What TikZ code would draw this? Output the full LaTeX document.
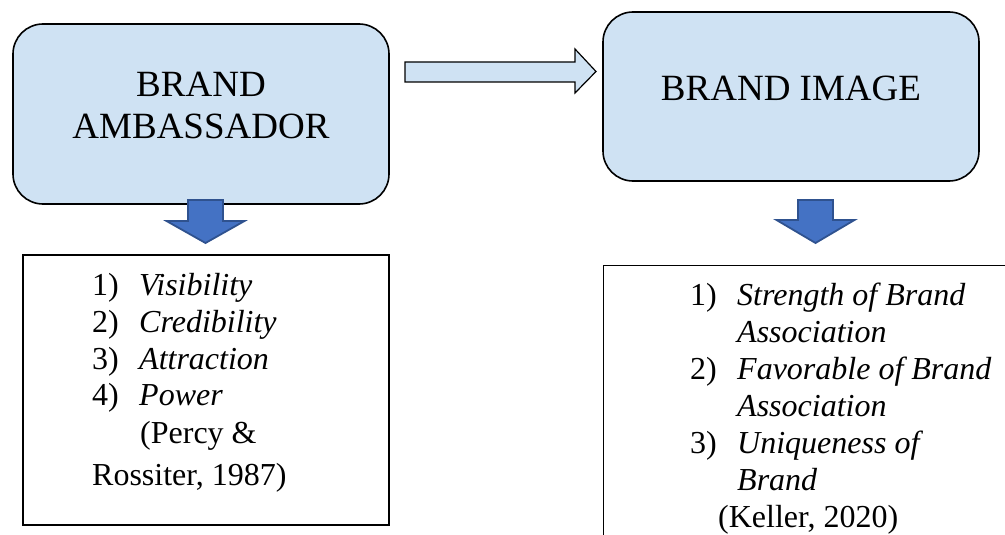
\documentclass[tikz,border=0pt]{standalone}
\usepackage{fontspec}
\setmainfont{Liberation Serif}
\definecolor{boxblue}{RGB}{207,226,243}
\definecolor{arrowfill}{RGB}{68,114,196}
\definecolor{arrowline}{RGB}{47,82,143}
\begin{document}
\begin{tikzpicture}[x=1pt,y=-1pt,
  titletext/.style={font=\fontsize{37}{44}\selectfont, inner sep=0pt, anchor=base},
  itemtext/.style={font=\fontsize{32}{37}\selectfont, inner sep=0pt, anchor=base west},
  roundbox/.style={draw, line width=1.6pt, fill=boxblue, rounded corners=30pt, inner sep=0pt},
  listbox/.style={draw, line width=1.2pt, fill=white, inner sep=0pt},
  downarrow/.style={draw=arrowline, line width=1.8pt, fill=arrowfill, line join=miter},
  rightarrow/.style={draw=black, line width=1.2pt, fill=boxblue, line join=miter}]
\useasboundingbox (0,0) rectangle (1005,535);
\clip (0,0) rectangle (1005,535);

% upper boxes
\node[roundbox, minimum width=376pt, minimum height=180pt] (amb) at (201,114) {};
\node[titletext] (ambA) at (201,96) {BRAND};
\node[titletext] (ambB) at (201,139) {AMBASSADOR};

\node[roundbox, minimum width=376pt, minimum height=169pt] (img) at (791,96.5) {};
\node[titletext] (imgT) at (791,100) {BRAND IMAGE};

% block arrow between the boxes
\draw[rightarrow] (405,62) -- (575,62) -- (575,49) -- (596,71.5) -- (575,93) -- (575,82) -- (405,82) -- cycle;

% list boxes
\node[listbox, minimum width=366pt, minimum height=270pt] (lstA) at (206,390) {};
\node[listbox, minimum width=410pt, minimum height=290pt, anchor=north west] (lstB) at (603,265) {};

% down arrows
\draw[downarrow] (188,200) -- (223,200) -- (223,221) -- (244.5,221) -- (205.5,243) -- (166.5,221) -- (188,221) -- cycle;
\draw[downarrow] (798,200) -- (833,200) -- (833,220) -- (854.5,220) -- (815.5,243) -- (776.5,220) -- (798,220) -- cycle;

% left list
\node[itemtext] (a1n) at (92,295) {1)};
\node[itemtext] (a1) at (139,295) {\textit{Visibility}};
\node[itemtext] (a2n) at (92,332) {2)};
\node[itemtext] (a2) at (139,332) {\textit{Credibility}};
\node[itemtext] (a3n) at (92,369) {3)};
\node[itemtext] (a3) at (139,369) {\textit{Attraction}};
\node[itemtext] (a4n) at (92,405) {4)};
\node[itemtext] (a4) at (139,405) {\textit{Power}};
\node[itemtext] (aref1) at (140,443) {(Percy \&};
\node[itemtext] (aref2) at (92,485) {Rossiter, 1987)};

% right list
\node[itemtext] (b1n) at (690,305) {1)};
\node[itemtext] (b1) at (737,305) {\textit{Strength of Brand}};
\node[itemtext] (b1b) at (737,342) {\textit{Association}};
\node[itemtext] (b2n) at (690,379) {2)};
\node[itemtext] (b2) at (737,379) {\textit{Favorable of Brand}};
\node[itemtext] (b2b) at (737,416) {\textit{Association}};
\node[itemtext] (b3n) at (690,453) {3)};
\node[itemtext] (b3) at (737,453) {\textit{Uniqueness of}};
\node[itemtext] (b3b) at (737,490) {\textit{Brand}};
\node[itemtext] (bref) at (718,527) {(Keller, 2020)};
\end{tikzpicture}
\end{document}
